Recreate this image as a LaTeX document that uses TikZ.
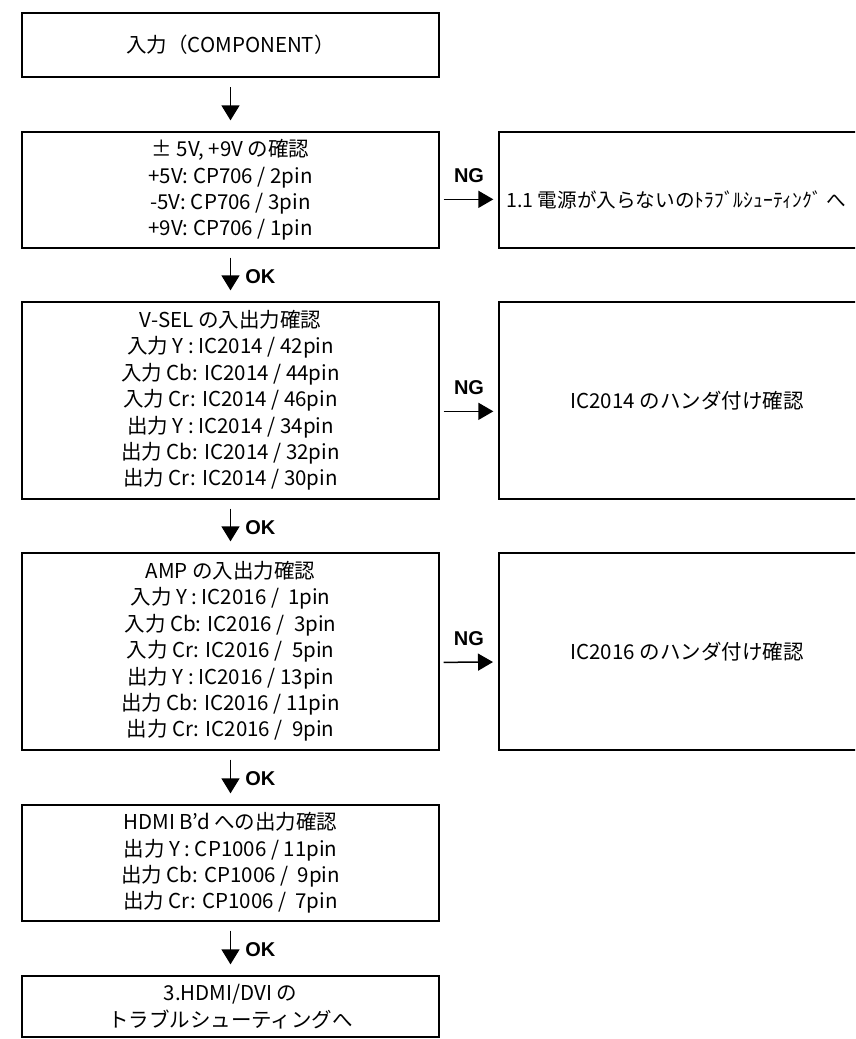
\documentclass[tikz,border=0pt]{standalone}
\usepackage{fontspec}
\setmainfont{Noto Sans CJK JP}
\newfontfamily\lblfont{Liberation Sans}
\usetikzlibrary{arrows.meta}
\tikzset{
  box/.style={draw, line width=1.3pt, inner sep=0pt, align=center,
    font=\fontsize{20.5}{26.4}\selectfont},
  thickbox/.style={box, line width=2pt},
  lbox/.style={minimum width=417pt},
  rbox/.style={minimum width=376pt},
  varr/.style={line width=1.5pt, -{Triangle[width=18pt,length=15pt]},
    shorten <=9pt, shorten >=11pt},
  harr/.style={line width=1.5pt, -{Triangle[width=17pt,length=15pt]},
    shorten <=4pt, shorten >=5pt},
  oklbl/.style={font=\lblfont\bfseries\fontsize{20}{22}\selectfont,
    anchor=west, inner sep=0pt, xshift=14pt, yshift=-1.5pt},
  nglbl/.style={font=\lblfont\bfseries\fontsize{20}{22}\selectfont,
    inner sep=0pt, yshift=24pt},
}
\begin{document}
\begin{tikzpicture}[x=1pt,y=-1pt]
\useasboundingbox (0,0) rectangle (855,1039);
\clip (0,0) rectangle (855,1039);

% left column
\node[thickbox, lbox, minimum height=64pt] (b1) at (230.5,45) {入力（COMPONENT）};
\node[box, lbox, minimum height=116pt] (b2) at (230.5,190)
  {± 5V, +9V の確認\\+5V: CP706 / 2pin\\-5V: CP706 / 3pin\\+9V: CP706 / 1pin};
\node[box, lbox, minimum height=197pt] (b3) at (230.5,400.5)
  {V-SEL の入出力確認\\入力 Y : IC2014 / 42pin\\入力 Cb: IC2014 / 44pin\\入力 Cr: IC2014 / 46pin\\出力 Y : IC2014 / 34pin\\出力 Cb: IC2014 / 32pin\\出力 Cr: IC2014 / 30pin};
\node[box, lbox, minimum height=197pt] (b4) at (230.5,651.5)
  {AMP の入出力確認\\入力 Y : IC2016 /\ \ 1pin\\入力 Cb: IC2016 /\ \ 3pin\\入力 Cr: IC2016 /\ \ 5pin\\出力 Y : IC2016 / 13pin\\出力 Cb: IC2016 / 11pin\\出力 Cr: IC2016 /\ \ 9pin};
\node[box, lbox, minimum height=116pt] (b5) at (230.5,863)
  {HDMI B'd への出力確認\\出力 Y : CP1006 / 11pin\\出力 Cb: CP1006 /\ \ 9pin\\出力 Cr: CP1006 /\ \ 7pin};
\node[box, lbox, minimum height=61pt] (b6) at (230.5,1006.5)
  {3.HDMI/DVI の\\トラブルシューティングへ};

% right column
\node[box, rbox, minimum height=116pt] (n1) at (687,190) {};
\node[anchor=west, inner sep=0pt, font=\fontsize{19.6}{24}\selectfont] (n1t) at (506,200)
  {1.1 電源が入らないのﾄﾗﾌﾞﾙｼｭｰﾃｨﾝｸﾞ へ};
\node[box, rbox, minimum height=197pt] (n2) at (687,400.5) {IC2014 のハンダ付け確認};
\node[thickbox, rbox, minimum height=197pt] (n3) at (687,651.5) {IC2016 のハンダ付け確認};

% vertical connectors
\draw[varr] (b1) -- (b2);
\draw[varr] (b2) -- node[oklbl]{OK} (b3);
\draw[varr] (b3) -- node[oklbl]{OK} (b4);
\draw[varr] (b4) -- node[oklbl]{OK} (b5);
\draw[varr] (b5) -- node[oklbl]{OK} (b6);

% NG connectors
\draw[harr] ([yshift=-68pt]b2.north east) -- node[nglbl]{NG} ([yshift=-68pt]n1.north west);
\draw[harr] ([yshift=-110pt]b3.north east) -- node[nglbl]{NG} ([yshift=-110pt]n2.north west);
\draw[harr] ([yshift=-110pt]b4.north east) -- node[nglbl]{NG} ([yshift=-110pt]n3.north west);
\end{tikzpicture}
\end{document}
